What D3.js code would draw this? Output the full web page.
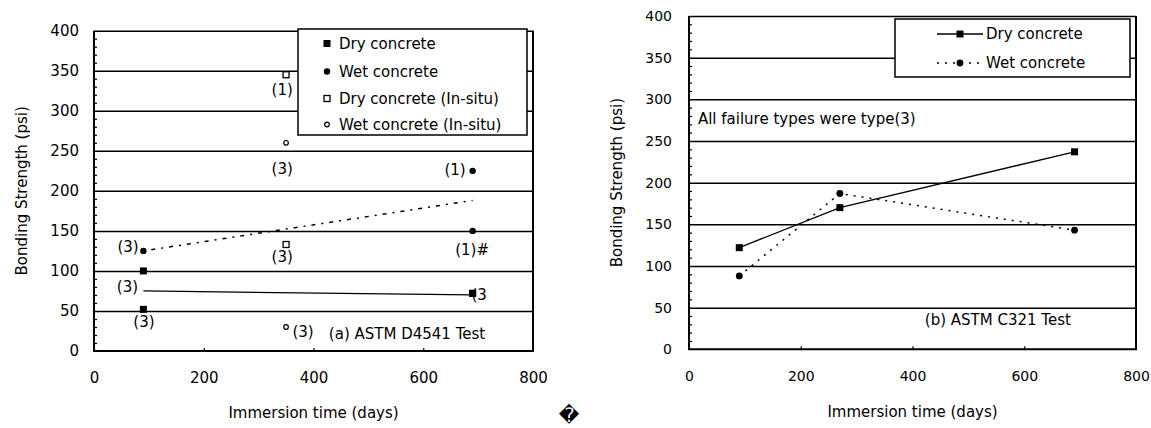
<!DOCTYPE html>
<html><head><meta charset="utf-8">
<script src="https://cdn.jsdelivr.net/npm/d3@7"></script>
<style>
body{margin:0;background:#fff}
text{font-family:"DejaVu Sans",sans-serif;fill:#000}
</style></head>
<body><svg id="c" width="1151" height="428"></svg>
<script>
// ---------- DATA ----------
const xTicks = [0, 200, 400, 600, 800];
const yTicks = [0, 50, 100, 150, 200, 250, 300, 350, 400];
const xTitle = "Immersion time (days)";
const yTitle = "Bonding Strength (psi)";

// (a) ASTM D4541
const aDryDays = [90, 90, 690];
const aDryVals = [100, 52, 72];
const aWetDays = [90, 690, 690];
const aWetVals = [125, 150, 225];
const aDryInsituDays = [350, 350];
const aDryInsituVals = [345, 133];
const aWetInsituDays = [350, 350];
const aWetInsituVals = [260, 30];
const aDryTrendDays = [90, 690];
const aDryTrendVals = [75, 70];
const aWetTrendDays = [90, 690];
const aWetTrendVals = [125, 188];
const aLegend = ["Dry concrete", "Wet concrete", "Dry concrete (In-situ)", "Wet concrete (In-situ)"];
// failure-type labels: [day, value, text] (label centre in data units)
const aLabels = [
  [62, 130, "(3)"], [61, 80, "(3)"], [91, 36.5, "(3)"],
  [343, 326.5, "(1)"], [343, 228, "(3)"], [343, 117.5, "(3)"],
  [658, 226, "(1)"], [689, 126, "(1)#"], [702, 70, "(3"], [381, 24, "(3)"]
];
const aNote = [428, 22, "(a) ASTM D4541 Test"];

// (b) ASTM C321
const bDays = [90, 270, 690];
const bDry = [122, 170, 237];
const bWet = [88, 187, 143];
const bLegend = ["Dry concrete", "Wet concrete"];
const bNote1 = [16, 277, "All failure types were type(3)"];
const bNote2 = [422, 35, "(b) ASTM C321 Test"];

// ---------- DRAW ----------
const svg = d3.select("#c");

function panel(x, y, tickFont) {
  const x0 = x.range()[0], x1 = x.range()[1];
  const yb = y.range()[0], yt = y.range()[1];
  const g = svg.append("g");
  // gridlines
  const grid = g.append("g").attr("transform", `translate(${x0},0)`)
    .call(d3.axisLeft(y).tickValues(yTicks.slice(1)).tickSize(-(x1 - x0)).tickFormat(""));
  grid.select(".domain").remove();
  grid.selectAll("line").attr("stroke", "#000").attr("stroke-width", 1.5);
  // minor ticks
  const minor = g.append("g").attr("transform", `translate(${x0},0)`)
    .call(d3.axisRight(y).tickValues(d3.range(0, 401, 10).filter(v => v % 50)).tickSize(3).tickFormat(""));
  minor.select(".domain").remove();
  minor.selectAll("line").attr("stroke", "#000").attr("stroke-width", 1.2);
  // y labels
  const yl = g.append("g").attr("transform", `translate(${x0},0)`)
    .call(d3.axisLeft(y).tickValues(yTicks).tickSize(0).tickPadding(tickFont === 15 ? 15 : 17));
  yl.select(".domain").remove();
  yl.selectAll("text").attr("font-size", tickFont).attr("font-family", "DejaVu Sans");
  // x axis
  const xa = g.append("g").attr("transform", `translate(0,${yb})`)
    .call(d3.axisBottom(x).tickValues(xTicks).tickSize(-3));
  xa.select(".domain").remove();
  xa.selectAll("line").attr("stroke", "#000").attr("stroke-width", 1.2);
  xa.selectAll("text").attr("y", 27).attr("dy", "0.35em").attr("font-size", tickFont).attr("font-family", "DejaVu Sans");
  // frame
  g.append("path").attr("d", `M${x0},${yt}V${yb}H${x1}V${yt}`).attr("fill", "none").attr("stroke", "#000").attr("stroke-width", 2);
  // titles
  g.append("text").attr("x", (x0 + x1) / 2).attr("y", yb + 62).attr("dy", "0.35em")
    .attr("text-anchor", "middle").attr("font-size", 15).text(xTitle);
  const cy = (yb + yt) / 2;
  g.append("text").attr("transform", `translate(${x0 - 72},${cy}) rotate(-90)`).attr("dy", "0.35em")
    .attr("text-anchor", "middle").attr("font-size", 15).text(yTitle);
  return g;
}

function zip(a, b) { return a.map((d, i) => [d, b[i]]); }

// ----- panel (a)
const xA = d3.scaleLinear([0, 800], [94, 533]);
const yA = d3.scaleLinear([0, 400], [351, 30.7]);
const gA = panel(xA, yA, 15);
const lineA = d3.line().x(d => xA(d[0])).y(d => yA(d[1]));
gA.append("path").attr("d", lineA(zip(aDryTrendDays, aDryTrendVals))).attr("fill", "none").attr("stroke", "#000").attr("stroke-width", 1.2);
gA.append("path").attr("d", lineA(zip(aWetTrendDays, aWetTrendVals))).attr("fill", "none").attr("stroke", "#000").attr("stroke-width", 1.5).attr("stroke-dasharray", "2,6,4,6");

function sq(g, cx, cy, s, fill) {
  g.append("rect").attr("x", cx - s / 2).attr("y", cy - s / 2).attr("width", s).attr("height", s)
    .attr("fill", fill ? "#000" : "#fff").attr("stroke", "#000").attr("stroke-width", fill ? 0 : 1.3);
}
function dot(g, cx, cy, r, fill) {
  g.append("circle").attr("cx", cx).attr("cy", cy).attr("r", r)
    .attr("fill", fill ? "#000" : "#fff").attr("stroke", "#000").attr("stroke-width", fill ? 0 : 1.2);
}

zip(aDryDays, aDryVals).forEach(d => sq(gA, xA(d[0]), yA(d[1]), 7, true));
zip(aWetDays, aWetVals).forEach(d => dot(gA, xA(d[0]), yA(d[1]), 3.2, true));
zip(aDryInsituDays, aDryInsituVals).forEach(d => sq(gA, xA(d[0]), yA(d[1]), 6, false));
zip(aWetInsituDays, aWetInsituVals).forEach(d => dot(gA, xA(d[0]), yA(d[1]), 2.3, false));

aLabels.forEach(d => gA.append("text").attr("x", xA(d[0])).attr("y", yA(d[1])).attr("dy", "0.35em")
  .attr("text-anchor", "middle").attr("font-size", 15).text(d[2]));
// the (3 label sits under the square: redraw that square on top
sq(gA, xA(aDryDays[2]), yA(aDryVals[2]), 7, true);
gA.append("text").attr("x", xA(aNote[0])).attr("y", yA(aNote[1])).attr("dy", "0.35em").attr("font-size", 15).text(aNote[2]);

// legend (a)
const lgA = gA.append("g");
lgA.append("rect").attr("x", 298).attr("y", 29).attr("width", 229).attr("height", 106)
  .attr("fill", "#fff").attr("stroke", "#000").attr("stroke-width", 1.5);
const rowsA = [43.5, 71.5, 98.5, 124.5];
sq(lgA, 327, rowsA[0], 7, true);
dot(lgA, 327, rowsA[1], 3.2, true);
sq(lgA, 327, rowsA[2], 6, false);
dot(lgA, 327, rowsA[3], 2.3, false);
aLegend.forEach((t, i) => lgA.append("text").attr("x", 339).attr("y", rowsA[i]).attr("dy", "0.35em").attr("font-size", 15).text(t));

// ----- panel (b)
const xB = d3.scaleLinear([0, 800], [689, 1136]);
const yB = d3.scaleLinear([0, 400], [349.3, 16]);
const gB = panel(xB, yB, 14);
const lineB = d3.line().x(d => xB(d[0])).y(d => yB(d[1]));
gB.append("path").attr("d", lineB(zip(bDays, bDry))).attr("fill", "none").attr("stroke", "#000").attr("stroke-width", 1.3);
gB.append("path").attr("d", lineB(zip(bDays, bWet))).attr("fill", "none").attr("stroke", "#000").attr("stroke-width", 1.5).attr("stroke-dasharray", "2,6");
zip(bDays, bDry).forEach(d => sq(gB, xB(d[0]), yB(d[1]), 7, true));
zip(bDays, bWet).forEach(d => dot(gB, xB(d[0]), yB(d[1]), 3.4, true));
[bNote1, bNote2].forEach(d => gB.append("text").attr("x", xB(d[0])).attr("y", yB(d[1])).attr("dy", "0.35em").attr("font-size", 15).text(d[2]));

// legend (b)
const lgB = gB.append("g");
lgB.append("rect").attr("x", 895).attr("y", 19).attr("width", 235).attr("height", 58)
  .attr("fill", "#fff").attr("stroke", "#000").attr("stroke-width", 1.5);
const rowsB = [34, 63];
lgB.append("line").attr("x1", 937).attr("x2", 983).attr("y1", rowsB[0]).attr("y2", rowsB[0]).attr("stroke", "#000").attr("stroke-width", 1.3);
sq(lgB, 960, rowsB[0], 7, true);
lgB.append("line").attr("x1", 937).attr("x2", 983).attr("y1", rowsB[1]).attr("y2", rowsB[1]).attr("stroke", "#000").attr("stroke-width", 1.5).attr("stroke-dasharray", "2,6");
dot(lgB, 960, rowsB[1], 3.4, true);
bLegend.forEach((t, i) => lgB.append("text").attr("x", 986).attr("y", rowsB[i]).attr("dy", "0.35em").attr("font-size", 15).text(t));

// stray replacement glyph from the source page
svg.append("text").attr("x", 569).attr("y", 415).attr("dy", "0.35em").attr("text-anchor", "middle")
  .attr("font-size", 20).text("\uFFFD");
</script></body></html>
